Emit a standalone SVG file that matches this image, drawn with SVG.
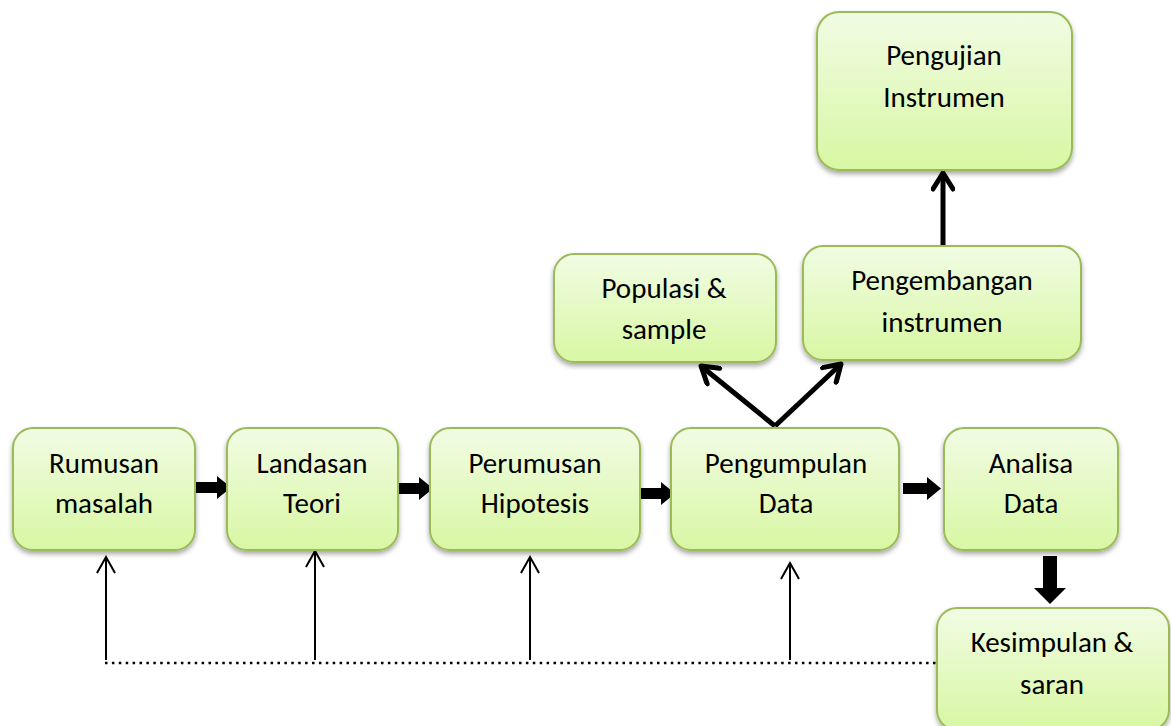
<svg xmlns="http://www.w3.org/2000/svg" width="1171" height="726" viewBox="0 0 1171 726">
<defs>
<linearGradient id="g" x1="0" y1="0" x2="0" y2="1">
<stop offset="0" stop-color="#f1fce4"/>
<stop offset="1" stop-color="#d8f7a3"/>
</linearGradient>
<filter id="sh" x="-10%" y="-10%" width="120%" height="130%">
<feDropShadow dx="0" dy="3" stdDeviation="2.5" flood-color="#000" flood-opacity="0.35"/>
</filter>
<marker id="thin" viewBox="0 0 20 20" refX="18" refY="10" markerWidth="20" markerHeight="20" markerUnits="userSpaceOnUse" orient="auto">
<path d="M2,1 L18,10 L2,19" fill="none" stroke="#000" stroke-width="2"/>
</marker>
<marker id="thick" viewBox="0 0 24 24" refX="21" refY="12" markerWidth="24" markerHeight="24" markerUnits="userSpaceOnUse" orient="auto">
<path d="M5,2 L21,12 L5,22" fill="none" stroke="#000" stroke-width="5" stroke-linecap="round" stroke-linejoin="round"/>
</marker>
</defs>
<style>
.box{fill:url(#g);stroke:#9bbb59;stroke-width:2;filter:url(#sh)}
.t{font-family:Carlito,"Open Sans","Liberation Sans",sans-serif;font-size:29px;fill:#000;text-anchor:middle}
.blk{fill:#000}
.th{stroke:#000;stroke-width:2;fill:none}
.tk{stroke:#000;stroke-width:5;fill:none}
</style>
<rect width="1171" height="726" fill="#fff"/>
<g id="connectors">
<path class="blk" d="M193,482 H217 V476 L231,487.5 L217,499 V493 H193 Z"/>
<path class="blk" d="M395,483 H419 V477 L433,488.5 L419,500 V494 H395 Z"/>
<path class="blk" d="M637,488 H661 V482 L675,493.5 L661,505 V499 H637 Z"/>
<path class="blk" d="M903,483 H927 V477 L941,488.5 L927,500 V494 H903 Z"/>
<path class="blk" d="M1043,556 H1057 V588 H1066 L1050,604 L1034,588 H1043 Z"/>
<path class="tk" d="M775,426 L701,366" marker-end="url(#thick)"/>
<path class="tk" d="M775,426 L841,364" marker-end="url(#thick)"/>
<path class="tk" d="M943,245 V173" marker-end="url(#thick)"/>
<path class="th" d="M106,660 V557" marker-end="url(#thin)"/>
<path class="th" d="M315,660 V551" marker-end="url(#thin)"/>
<path class="th" d="M530,660 V557" marker-end="url(#thin)"/>
<path class="th" d="M790,660 V563" marker-end="url(#thin)"/>
<path d="M105,663 H937" stroke="#000" stroke-width="2.5" stroke-dasharray="2.5 4.4" fill="none"/>
</g>
<g id="n1"><rect class="box" x="13" y="428" width="182" height="122" rx="20"/><text class="t" x="104" y="473">Rumusan</text><text class="t" x="104" y="513">masalah</text></g>
<g id="n2"><rect class="box" x="227" y="428" width="171" height="122" rx="20"/><text class="t" x="312" y="473">Landasan</text><text class="t" x="312" y="513">Teori</text></g>
<g id="n3"><rect class="box" x="430" y="428" width="210" height="122" rx="20"/><text class="t" x="535" y="473">Perumusan</text><text class="t" x="535" y="513">Hipotesis</text></g>
<g id="n4"><rect class="box" x="671" y="428" width="228" height="122" rx="20"/><text class="t" x="786" y="473">Pengumpulan</text><text class="t" x="786" y="513">Data</text></g>
<g id="n5"><rect class="box" x="944" y="428" width="174" height="122" rx="20"/><text class="t" x="1031" y="473">Analisa</text><text class="t" x="1031" y="513">Data</text></g>
<g id="n6"><rect class="box" x="937" y="608" width="232" height="122" rx="20"/><text class="t" x="1052" y="652">Kesimpulan &amp;</text><text class="t" x="1052" y="694">saran</text></g>
<g id="n7"><rect class="box" x="554" y="254" width="222" height="108" rx="20"/><text class="t" x="664" y="298">Populasi &amp;</text><text class="t" x="664" y="339">sample</text></g>
<g id="n8"><rect class="box" x="803" y="246" width="278" height="114" rx="20"/><text class="t" x="942" y="290">Pengembangan</text><text class="t" x="942" y="332">instrumen</text></g>
<g id="n9"><rect class="box" x="817" y="12" width="255" height="158" rx="22"/><text class="t" x="944" y="65">Pengujian</text><text class="t" x="944" y="107">Instrumen</text></g>
</svg>
